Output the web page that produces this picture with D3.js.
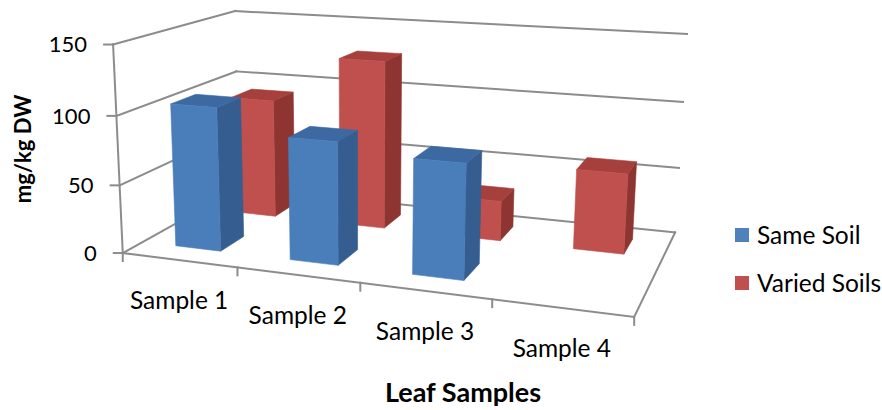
<!DOCTYPE html>
<html>
<head>
<meta charset="utf-8">
<script src="https://cdn.jsdelivr.net/npm/d3@7"></script>
<style>
  html, body { margin: 0; padding: 0; background: #fff; }
  svg { display: block; }
  text { font-family: Lato, "Open Sans", sans-serif; fill: #000; }
</style>
</head>
<body>
<svg id="chart" width="882" height="410"></svg>
<script>
// ---- data ----
const categories = ["Sample 1", "Sample 2", "Sample 3", "Sample 4"];
const seriesNames = ["Same Soil", "Varied Soils"];
const sameSoil = [105, 88, 81, null];
const variedSoils = [92, 128, 30, 59];
const yTicks = [0, 50, 100, 150];

const seriesValues = [sameSoil, variedSoils];
const seriesColors = {
  "Same Soil":    { front: "#4a7ebb", side: "#355d90", top: "#3d69a2", key: "#4f81bd" },
  "Varied Soils": { front: "#c0504d", side: "#8e3431", top: "#a5403d", key: "#c0504d" }
};

// ---- perspective of the plot box ----
// The box is described in unit coordinates: u (categories, left to right),
// v (value, floor to top), w (series depth, front to back). Screen positions
// of the box frame define a projective camera, fitted by least squares.
const frameAnchors = [
  { u: 0,    v: 0,     w: 0, x: 123, y: 253 },
  { u: 0,    v: 1 / 3, w: 0, x: 120, y: 185 },
  { u: 0,    v: 2 / 3, w: 0, x: 116, y: 116 },
  { u: 0,    v: 1,     w: 0, x: 113, y: 45 },
  { u: 0,    v: 0,     w: 1, x: 239, y: 189 },
  { u: 0,    v: 1 / 3, w: 1, x: 238, y: 130 },
  { u: 0,    v: 2 / 3, w: 1, x: 237, y: 71 },
  { u: 0,    v: 1,     w: 1, x: 235, y: 11 },
  { u: 1,    v: 1,     w: 1, x: 687, y: 34 },
  { u: 1,    v: 2 / 3, w: 1, x: 683, y: 102 },
  { u: 1,    v: 1 / 3, w: 1, x: 679, y: 168 },
  { u: 1,    v: 0,     w: 1, x: 675, y: 232 },
  { u: 1,    v: 0,     w: 0, x: 634, y: 317 },
  { u: 0.25, v: 0,     w: 0, x: 237, y: 267 },
  { u: 0.5,  v: 0,     w: 0, x: 360, y: 282 },
  { u: 0.75, v: 0,     w: 0, x: 493, y: 300 }
];

function fitCamera(pts) {
  const n = 11;
  const M = Array.from({ length: n }, () => new Array(n).fill(0));
  const r = new Array(n).fill(0);
  const addRow = (row, val) => {
    for (let i = 0; i < n; i++) {
      r[i] += row[i] * val;
      for (let j = 0; j < n; j++) M[i][j] += row[i] * row[j];
    }
  };
  pts.forEach(p => {
    addRow([1, p.u, p.v, p.w, 0, 0, 0, 0, -p.x * p.u, -p.x * p.v, -p.x * p.w], p.x);
    addRow([0, 0, 0, 0, 1, p.u, p.v, p.w, -p.y * p.u, -p.y * p.v, -p.y * p.w], p.y);
  });
  // Gaussian elimination with partial pivoting
  for (let c = 0; c < n; c++) {
    let piv = c;
    for (let k = c + 1; k < n; k++) if (Math.abs(M[k][c]) > Math.abs(M[piv][c])) piv = k;
    [M[c], M[piv]] = [M[piv], M[c]];
    [r[c], r[piv]] = [r[piv], r[c]];
    for (let k = c + 1; k < n; k++) {
      const f = M[k][c] / M[c][c];
      for (let j = c; j < n; j++) M[k][j] -= f * M[c][j];
      r[k] -= f * r[c];
    }
  }
  const p = new Array(n).fill(0);
  for (let c = n - 1; c >= 0; c--) {
    let s = r[c];
    for (let j = c + 1; j < n; j++) s -= M[c][j] * p[j];
    p[c] = s / M[c][c];
  }
  return p;
}

const cam = fitCamera(frameAnchors);
function project(u, v, w) {
  const d = 1 + cam[8] * u + cam[9] * v + cam[10] * w;
  return [
    (cam[0] + cam[1] * u + cam[2] * v + cam[3] * w) / d,
    (cam[4] + cam[5] * u + cam[6] * v + cam[7] * w) / d
  ];
}

// ---- scales ----
const xBand = d3.scaleBand().domain(categories).range([0, 1])
  .paddingInner(0.6).paddingOuter(0.3);
const zBand = d3.scaleBand().domain(seriesNames).range([0, 1])
  .paddingInner(0.6).paddingOuter(0.3);
const yScale = d3.scaleLinear().domain([0, 150]).range([0, 1]);

const svg = d3.select("#chart");
const line = d3.line();
const gridColor = "#8c8c8c";

// ---- walls, floor and grid ----
const grid = svg.append("g").attr("fill", "none").attr("stroke", gridColor)
  .attr("stroke-width", 2).attr("stroke-linecap", "square");

yTicks.forEach(t => {
  const v = yScale(t);
  grid.append("path").attr("d", line([project(0, v, 0), project(0, v, 1)]));
  grid.append("path").attr("d", line([project(0, v, 1), project(1, v, 1)]));
});
// floor front and right edges
grid.append("path").attr("d", line([project(0, 0, 0), project(1, 0, 0), project(1, 0, 1)]));
// value axis line
grid.append("path").attr("d", line([project(0, 0, 0), project(0, 1, 0)]));

// value axis ticks and labels
yTicks.forEach(t => {
  const [x, y] = project(0, yScale(t), 0);
  grid.append("path").attr("d", line([[x - 9, y], [x, y]]));
  svg.append("text")
    .attr("x", x - 26).attr("y", y)
    .attr("dy", "0.36em")
    .attr("text-anchor", "end")
    .attr("font-size", 22)
    .text(t);
});

// category ticks along the front floor edge
d3.range(categories.length + 1).forEach(i => {
  const u = i === categories.length ? 1 : xBand.step() * i;
  const [x, y] = project(u, 0, 0);
  grid.append("path").attr("d", line([[x, y], [x, y + 8]]));
});

// category labels
categories.forEach(c => {
  const [x, y] = project(xBand(c) + xBand.bandwidth() / 2, 0, 0);
  svg.append("text")
    .attr("x", x).attr("y", y + 49)
    .attr("text-anchor", "middle")
    .attr("font-size", 24.5)
    .text(c);
});

// ---- bars ----
const bars = [];
seriesNames.forEach((s, si) => {
  categories.forEach((c, ci) => {
    const val = seriesValues[si][ci];
    if (val == null) return;
    bars.push({ series: s, category: c, value: val });
  });
});
// paint back row first, and left to right within a row
bars.sort((a, b) => d3.descending(zBand(a.series), zBand(b.series)) ||
                    d3.ascending(xBand(a.category), xBand(b.category)));

const barG = svg.append("g").attr("stroke-linejoin", "round");
bars.forEach(b => {
  const u0 = xBand(b.category), u1 = u0 + xBand.bandwidth();
  const w0 = zBand(b.series), w1 = w0 + zBand.bandwidth();
  const v0 = 0, v1 = yScale(b.value);
  const col = seriesColors[b.series];
  const face = (pts, fill) => barG.append("path")
    .attr("d", line(pts.map(p => project(...p))) + "Z")
    .attr("fill", fill).attr("stroke", fill).attr("stroke-width", 0.6);
  // right side
  face([[u1, v0, w0], [u1, v0, w1], [u1, v1, w1], [u1, v1, w0]], col.side);
  // top
  face([[u0, v1, w0], [u1, v1, w0], [u1, v1, w1], [u0, v1, w1]], col.top);
  // front
  face([[u0, v0, w0], [u1, v0, w0], [u1, v1, w0], [u0, v1, w0]], col.front);
});

// ---- titles ----
svg.append("text")
  .attr("transform", "translate(31,149) rotate(-90)")
  .attr("text-anchor", "middle")
  .attr("font-size", 22).attr("font-weight", "bold")
  .text("mg/kg DW");

svg.append("text")
  .attr("x", 463).attr("y", 402)
  .attr("text-anchor", "middle")
  .attr("font-size", 27).attr("font-weight", "bold")
  .text("Leaf Samples");

// ---- legend ----
const legend = svg.append("g").attr("transform", "translate(735,228)");
seriesNames.forEach((s, i) => {
  const g = legend.append("g").attr("transform", `translate(0,${i * 48})`);
  g.append("rect").attr("width", 14).attr("height", 14).attr("fill", seriesColors[s].key);
  g.append("text").attr("x", 22).attr("y", 7).attr("dy", "0.36em")
    .attr("font-size", 24.5).text(s);
});
</script>
</body>
</html>
